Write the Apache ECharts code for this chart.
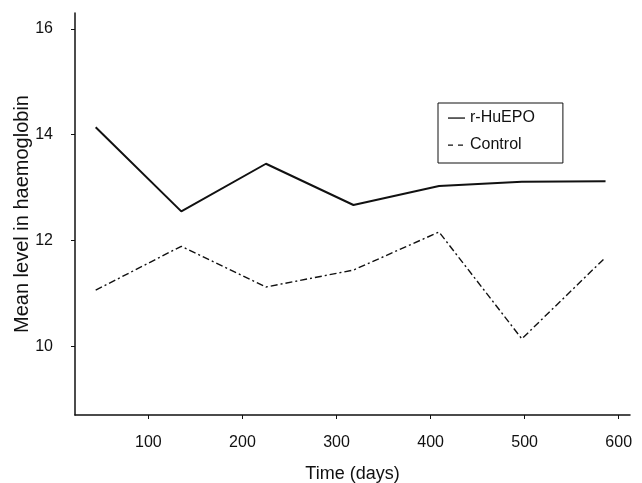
<!DOCTYPE html>
<html>
<head>
<meta charset="utf-8">
<script src="https://cdn.jsdelivr.net/npm/echarts@6/dist/echarts.min.js"></script>
<style>
  html, body { margin: 0; padding: 0; background: #fff; }
  #chart { width: 642px; height: 483px; }
</style>
</head>
<body>
<div id="chart"></div>
<script>
// time points (days)
const days = [44, 135, 225, 318, 409, 497, 586];
// mean haemoglobin
const huepo = [14.14, 12.55, 13.45, 12.67, 13.03, 13.11, 13.12];
const control = [11.06, 11.89, 11.12, 11.44, 12.16, 10.14, 11.68];
const xTicks = [100, 200, 300, 400, 500, 600];
const yTicks = [10, 12, 14, 16];

const font = 'Liberation Sans, Arial, Helvetica, sans-serif';
const ink = '#111';

// legend samples: a solid bar and two dashes, inside a 17x18 box
const solidIcon = 'path://M0,0 M0,8.4 h17 v1.3 h-17 Z M17,18';
const dashIcon = 'path://M0,0 M0,8.4 h5 v1.3 h-5 Z M10,8.4 h5 v1.3 h-5 Z M17,18';

function pairs(xs, ys) {
    return xs.map((x, i) => [x, ys[i]]);
}

const chart = echarts.init(document.getElementById('chart'));
chart.setOption({
    animation: false,
    backgroundColor: '#fff',
    grid: {left: 75, right: 12, top: 13, bottom: 68, outerBoundsMode: 'none'},
    legend: {
        orient: 'vertical',
        left: 438,
        top: 103,
        padding: [6, 28, 9, 10],
        borderColor: ink,
        borderWidth: 1,
        itemWidth: 17,
        itemHeight: 18,
        itemGap: 9,
        itemStyle: {color: ink, borderWidth: 0},
        textStyle: {fontFamily: font, fontSize: 16, color: ink, lineHeight: 18},
        data: [
            {name: 'r-HuEPO', icon: solidIcon},
            {name: 'Control', icon: dashIcon}
        ]
    },
    xAxis: {
        type: 'value',
        min: 22,
        max: 612,
        name: 'Time (days)',
        nameLocation: 'middle',
        nameGap: 50,
        nameTextStyle: {fontFamily: font, fontSize: 18, color: ink},
        axisLine: {lineStyle: {color: ink, width: 1.5}},
        axisTick: {length: 4, customValues: xTicks, lineStyle: {color: ink}},
        axisLabel: {customValues: xTicks, margin: 20, fontFamily: font, fontSize: 16, color: ink},
        splitLine: {show: false}
    },
    yAxis: {
        type: 'value',
        min: 8.7,
        max: 16.3,
        name: 'Mean level in haemoglobin',
        nameLocation: 'middle',
        nameGap: 43,
        nameMoveOverlap: false,
        nameTextStyle: {fontFamily: font, fontSize: 20, color: ink},
        axisLine: {show: true, lineStyle: {color: ink, width: 1.5}},
        axisTick: {show: true, length: 4, customValues: yTicks, lineStyle: {color: ink}},
        axisLabel: {customValues: yTicks, margin: 22, fontFamily: font, fontSize: 16, color: ink},
        splitLine: {show: false}
    },
    series: [
        {
            name: 'r-HuEPO',
            type: 'line',
            data: pairs(days, huepo),
            symbol: 'none',
            color: ink,
            lineStyle: {color: ink, width: 2}
        },
        {
            name: 'Control',
            type: 'line',
            data: pairs(days, control),
            symbol: 'none',
            color: ink,
            lineStyle: {color: ink, width: 1.4, type: [7, 3, 2, 3]}
        }
    ]
});
</script>
</body>
</html>
